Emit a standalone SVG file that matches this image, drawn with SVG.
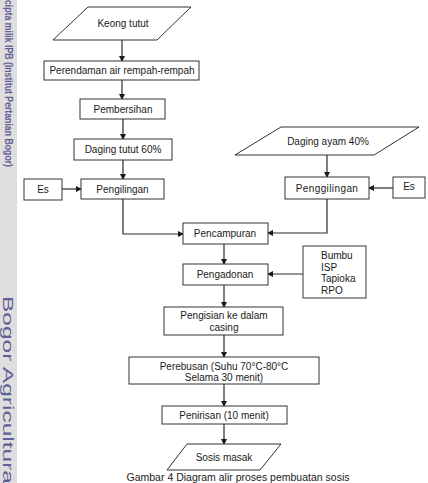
<svg xmlns="http://www.w3.org/2000/svg" width="428" height="483" viewBox="0 0 428 483">
<defs>
<marker id="arr" markerWidth="6" markerHeight="6" refX="5" refY="3" orient="auto" markerUnits="userSpaceOnUse">
<path d="M0,0 L6,3 L0,6 Z" fill="#1a1a1a"/>
</marker>
<style>
.box{fill:#fff;stroke:#333;stroke-width:1}
.t{font-family:"Liberation Sans",Arial,sans-serif;font-size:10px;fill:#1a1a1a;text-anchor:middle;dominant-baseline:central}
.c{fill:none;stroke:#2a2a2a;stroke-width:1.2;marker-end:url(#arr)}
.wm{font-family:"Liberation Sans",Arial,sans-serif;fill:#5f5f98}
</style>
</defs>
<rect width="428" height="483" fill="#fff"/>
<g id="watermark">
<rect x="0" y="0" width="17" height="483" fill="#dedede"/>
<text class="wm" transform="translate(5,0) rotate(90)" font-size="10" font-weight="bold" textLength="167" lengthAdjust="spacingAndGlyphs">cipta milik IPB (Institut Pertanian Bogor)</text>
<text class="wm" transform="translate(3,296) rotate(90)" font-size="15" textLength="188" lengthAdjust="spacingAndGlyphs">Bogor Agricultura</text>
</g>
<g id="connectors">
<path class="c" d="M122,40 V61"/>
<path class="c" d="M122,80 V99"/>
<path class="c" d="M123,119 V139"/>
<path class="c" d="M123,160 V179"/>
<path class="c" d="M62,189 H81"/>
<path class="c" d="M123,199 V234 H183"/>
<path class="c" d="M327,155 V177"/>
<path class="c" d="M393,188 H369"/>
<path class="c" d="M327,199 V233 H268"/>
<path class="c" d="M224,244 V264"/>
<path class="c" d="M303,274 H268"/>
<path class="c" d="M224,285 V307"/>
<path class="c" d="M224,335 V357"/>
<path class="c" d="M224,384 V406"/>
<path class="c" d="M224,424 V444"/>
</g>
<g id="keong">
<polygon class="box" points="88,7 191,7 157,40 53,40"/>
<text class="t" x="123" y="23">Keong tutut</text>
</g>
<g id="perendaman">
<rect class="box" x="44" y="61" width="155" height="19"/>
<text class="t" x="122" y="70.5">Perendaman air rempah-rempah</text>
</g>
<g id="pembersihan">
<rect class="box" x="80" y="99" width="85" height="20"/>
<text class="t" x="123" y="109">Pembersihan</text>
</g>
<g id="daging-tutut">
<rect class="box" x="74" y="139" width="98" height="21"/>
<text class="t" x="123" y="149.5">Daging tutut 60%</text>
</g>
<g id="es-left">
<rect class="box" x="24" y="179" width="38" height="21"/>
<text class="t" x="43" y="189">Es</text>
</g>
<g id="pengilingan">
<rect class="box" x="81" y="179" width="83" height="20"/>
<text class="t" x="122.5" y="189">Pengilingan</text>
</g>
<g id="daging-ayam">
<polygon class="box" points="281,127 419,127 374,155 235,155"/>
<text class="t" x="328" y="141" font-size="9">Daging ayam 40%</text>
</g>
<g id="penggilingan">
<rect class="box" x="285" y="177" width="84" height="22"/>
<text class="t" x="327" y="188" font-size="9" letter-spacing="0.4">Penggilingan</text>
</g>
<g id="es-right">
<rect class="box" x="393" y="177" width="32" height="21"/>
<text class="t" x="409" y="186.5" font-size="10.5">Es</text>
</g>
<g id="pencampuran">
<rect class="box" x="183" y="223" width="85" height="21"/>
<text class="t" x="225" y="233.5">Pencampuran</text>
</g>
<g id="pengadonan">
<rect class="box" x="183" y="264" width="85" height="21"/>
<text class="t" x="225" y="274.5">Pengadonan</text>
</g>
<g id="bumbu">
<rect class="box" x="303" y="246" width="63" height="52"/>
<text class="t" x="321" y="255" style="text-anchor:start">Bumbu</text>
<text class="t" x="321" y="267" style="text-anchor:start">ISP</text>
<text class="t" x="321" y="278.5" style="text-anchor:start">Tapioka</text>
<text class="t" x="321" y="290" style="text-anchor:start">RPO</text>
</g>
<g id="pengisian">
<rect class="box" x="164" y="307" width="119" height="28"/>
<text class="t" x="224" y="315.5" font-size="9.5">Pengisian ke dalam</text>
<text class="t" x="224" y="327" font-size="9.5">casing</text>
</g>
<g id="perebusan">
<rect class="box" x="129" y="357" width="190" height="27"/>
<text class="t" x="224" y="366" font-size="9.5">Perebusan (Suhu 70°C-80°C</text>
<text class="t" x="224" y="377.5" font-size="9.5">Selama 30 menit)</text>
</g>
<g id="penirisan">
<rect class="box" x="162" y="406" width="125" height="18"/>
<text class="t" x="224" y="415" font-size="9.5">Penirisan (10 menit)</text>
</g>
<g id="sosis">
<polygon class="box" points="187,444 281,444 260,470 167,470"/>
<text class="t" x="224" y="457" font-size="9.5">Sosis masak</text>
</g>
<text x="238" y="480.5" font-family="'Liberation Sans',Arial,sans-serif" font-size="10.5" fill="#1a1a1a" text-anchor="middle">Gambar 4 Diagram alir proses pembuatan sosis</text>
</svg>
